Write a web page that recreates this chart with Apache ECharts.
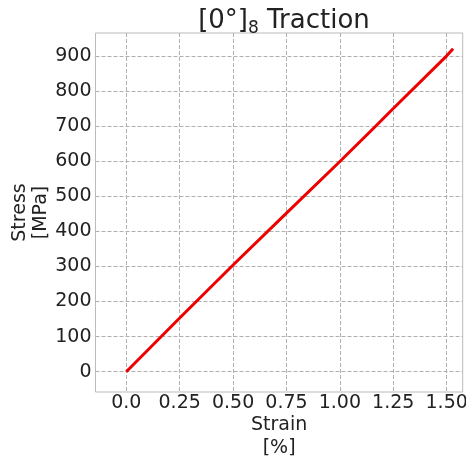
<!DOCTYPE html>
<html>
<head>
<meta charset="utf-8">
<script src="https://cdn.jsdelivr.net/npm/echarts@6/dist/echarts.min.js"></script>
<style>html,body{margin:0;padding:0;background:#fff;}#c{width:466px;height:461px;}</style>
</head>
<body>
<div id="c"></div>
<script>
const strain = [0, 0.25, 0.50, 0.75, 1.00, 1.16, 1.25, 1.50, 1.53];
const stress = [0, 153, 304, 452, 599, 695, 750, 900, 920];
const xTickValues = [0, 0.25, 0.5, 0.75, 1.0, 1.25, 1.5];
const xTickLabels = ['0.0', '0.25', '0.50', '0.75', '1.00', '1.25', '1.50'];
const yTickValues = [0, 100, 200, 300, 400, 500, 600, 700, 800, 900];
const titleMain = '[0°]';
const titleSub = '8';
const titleRest = ' Traction';

const font = 'DejaVu Sans';
const txt = '#222';
const chart = echarts.init(document.getElementById('c'), null, {renderer: 'canvas'});
chart.setOption({
  animation: false,
  backgroundColor: '#fff',
  title: {
    text: '{m|' + titleMain + '}{s|' + titleSub + '}{m|' + titleRest + '}',
    left: 279, top: -5, textAlign: 'center',
    textStyle: {
      fontWeight: 'normal',
      rich: {
        m: {fontFamily: font, fontSize: 26, fontWeight: 'normal', color: txt, lineHeight: 34, verticalAlign: 'bottom'},
        s: {fontFamily: font, fontSize: 17, fontWeight: 'normal', color: txt, lineHeight: 34, verticalAlign: 'bottom', padding: [0, 0, -3, 0]}
      }
    }
  },
  grid: {left: 95.5, right: 3.3, top: 33, bottom: 69, show: true, borderColor: '#bbbbbb', borderWidth: 1, containLabel: false, outerBoundsMode: 'none'},
  xAxis: {
    type: 'value', min: -0.144, max: 1.575,
    name: 'Strain\n[%]', nameLocation: 'middle', nameGap: 22, nameMoveOverlap: false,
    nameTextStyle: {fontFamily: font, fontSize: 19, color: txt, lineHeight: 23, verticalAlign: 'top'},
    axisLine: {show: false},
    axisTick: {show: false, customValues: xTickValues},
    axisLabel: {customValues: xTickValues, fontFamily: font, fontSize: 19, color: txt, margin: 2,
      formatter: function (v) { const i = xTickValues.findIndex(t => Math.abs(t - v) < 1e-9); return i >= 0 ? xTickLabels[i] : ''; }},
    splitLine: {show: true, lineStyle: {color: '#b0b0b0', type: [4, 2], width: 1}}
  },
  yAxis: {
    type: 'value', min: -57.7, max: 965,
    name: 'Stress\n[MPa]', nameLocation: 'middle', nameGap: 44, nameRotate: 90, nameMoveOverlap: false,
    nameTextStyle: {fontFamily: font, fontSize: 19, color: txt, lineHeight: 21},
    axisLine: {show: false},
    axisTick: {show: false, customValues: yTickValues},
    axisLabel: {customValues: yTickValues, fontFamily: font, fontSize: 19, color: txt, margin: 4},
    splitLine: {show: true, lineStyle: {color: '#b0b0b0', type: [4, 2], width: 1}}
  },
  series: [{
    type: 'line', data: strain.map((x, i) => [x, stress[i]]),
    showSymbol: false, symbol: 'none', lineStyle: {color: '#ee0000', width: 3}, clip: true
  }]
});
</script>
</body>
</html>
